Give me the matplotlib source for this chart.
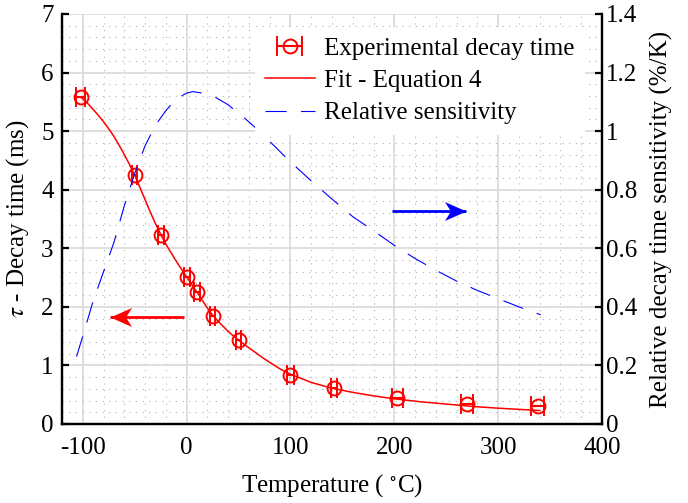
import matplotlib
matplotlib.use('Agg')
import matplotlib.pyplot as plt
from matplotlib.ticker import MultipleLocator, FuncFormatter
from matplotlib.path import Path

plt.rcParams['font.family'] = ['Liberation Serif', 'DejaVu Serif']
plt.rcParams['mathtext.fontset'] = 'stix'
plt.rcParams['axes.unicode_minus'] = False

# Experimental decay time
exp_T = [-102, -50, -25, 0, 10, 25, 50, 100, 142, 203, 270, 338]
exp_tau = [5.58, 4.25, 3.22, 2.51, 2.25, 1.85, 1.43, 0.83, 0.61, 0.45, 0.34, 0.30]
exp_Terr = [4.5, 2.7, 3.0, 3.0, 2.5, 2.5, 2.4, 3.2, 2.7, 5.0, 5.3, 6.0]

# Fit - Equation 4
fit_T = [-102, -98, -94, -90, -85, -80, -75, -70, -65, -60, -55, -50, -45, -40, -35, -30,
         -25, -20, -10, 0, 10, 20, 25, 30, 40, 50, 60, 75, 90, 100, 120, 140, 160, 180,
         200, 225, 250, 275, 300, 320, 340]
fit_tau = [5.58, 5.52, 5.45, 5.37, 5.27, 5.16, 5.04, 4.91, 4.76, 4.60, 4.43, 4.25, 4.04,
           3.83, 3.62, 3.42, 3.24, 3.07, 2.78, 2.51, 2.25, 1.98, 1.86, 1.76, 1.58, 1.43,
           1.30, 1.11, 0.94, 0.85, 0.71, 0.61, 0.54, 0.48, 0.43, 0.38, 0.34, 0.30, 0.27,
           0.25, 0.23]

# Relative sensitivity (%/K)
sens_T = [-106, -100, -90, -80, -70, -60, -50, -40, -30, -20, -10, 0, 6, 15, 27, 40, 56,
          70, 82, 100, 120, 140, 160, 180, 200, 220, 240, 260, 280, 300, 320, 341]
sens_val = [0.23, 0.30, 0.42, 0.52, 0.62, 0.745, 0.855, 0.95, 1.02, 1.07, 1.11, 1.13,
            1.135, 1.13, 1.117, 1.09, 1.044, 1.00, 0.958, 0.895, 0.83, 0.768, 0.708,
            0.66, 0.61, 0.565, 0.525, 0.488, 0.456, 0.428, 0.40, 0.373]

# Arrows (tail, tip, height on left axis)
red_arrow = (-3, -74, 1.83)
blue_arrow = (198, 269, 3.63)

RED = (1, 0, 0)
BLUE = (0, 0, 1)
FS = 18

fig = plt.figure(figsize=(6.88, 5.03), dpi=100)
ax = fig.add_axes([62/688, 1-424/503, 540/688, 410/503])
ax2 = ax.twinx()

ax.set_xlim(-120, 400)
ax.set_ylim(0, 7)
ax2.set_ylim(0, 1.4)

ax.xaxis.set_major_locator(MultipleLocator(100))
ax.xaxis.set_minor_locator(MultipleLocator(20))
ax.yaxis.set_major_locator(MultipleLocator(1))
ax.yaxis.set_minor_locator(MultipleLocator(0.2))
ax2.yaxis.set_major_locator(MultipleLocator(0.2))
fmt = FuncFormatter(lambda v, p: '%g' % round(v, 3))
ax.xaxis.set_major_formatter(fmt)
ax.yaxis.set_major_formatter(fmt)
ax2.yaxis.set_major_formatter(fmt)

ax.grid(which='major', color='#d9d9d9', lw=1.2, ls='-')
ax.grid(which='minor', color='#b0b0b0', lw=0.8, ls=(0, (1, 5)))
ax.set_axisbelow(True)

for a in (ax, ax2):
    a.spines['top'].set_visible(False)
    for s in ('left', 'right', 'bottom'):
        a.spines[s].set_linewidth(1.6)
ax.tick_params(axis='both', which='major', direction='in', labelsize=FS, width=1.6, length=5)
ax.tick_params(axis='x', which='major', length=0, pad=9)
ax.tick_params(axis='y', which='major', pad=6)
ax.tick_params(which='minor', length=0)
ax2.tick_params(axis='y', which='major', direction='in', labelsize=FS, width=1.6, length=5, pad=3)
ax2.tick_params(which='minor', length=0)

# data
eb = ax.errorbar(exp_T, exp_tau, xerr=exp_Terr, fmt='o', color=RED, mfc='none', mec=RED,
                 ms=10, mew=1.4, elinewidth=1.5, capsize=7, capthick=1.5, zorder=4)
fl, = ax.plot(fit_T, fit_tau, color=RED, lw=1.1, zorder=3)
sl, = ax2.plot(sens_T, sens_val, color=BLUE, lw=0.8, dashes=(19, 13))

# arrows with concave-back heads
head_r = Path([(0, 0), (-1, 0.44), (-0.72, 0), (-1, -0.44), (0, 0)],
              [Path.MOVETO, Path.LINETO, Path.LINETO, Path.LINETO, Path.CLOSEPOLY])
head_l = Path([(0, 0), (1, 0.44), (0.72, 0), (1, -0.44), (0, 0)],
              [Path.MOVETO, Path.LINETO, Path.LINETO, Path.LINETO, Path.CLOSEPOLY])
for (t0, t1, yv), col in ((red_arrow, RED), (blue_arrow, BLUE)):
    ax.plot([t0, t1], [yv, yv], color=col, lw=2.0, solid_capstyle='butt', zorder=5)
    ax.plot([t1], [yv], marker=head_l if t1 < t0 else head_r, ms=31, color=col,
            mec=col, mew=0, zorder=5)

ax.set_xlabel('Temperature ( $^{\\circ}$C)', fontsize=FS, labelpad=10)
ax.set_ylabel('$\\tau$ - Decay time (ms)', fontsize=FS, labelpad=7)
ax2.set_ylabel('Relative decay time sensitivity (%/K)', fontsize=FS, labelpad=9)

leg = ax2.legend([eb, fl, sl], ['Experimental decay time', 'Fit - Equation 4', 'Relative sensitivity'],
                 loc='upper right', bbox_to_anchor=((585-62)/540, (424-27)/410),
                 borderaxespad=0, fontsize=FS, frameon=True, fancybox=False,
                 handlelength=2.0, handletextpad=0.4, labelspacing=0.4, borderpad=0.4)
leg.get_frame().set_facecolor('white')
leg.get_frame().set_edgecolor('none')
leg.get_frame().set_alpha(1)

fig.savefig('out.png', dpi=100)
